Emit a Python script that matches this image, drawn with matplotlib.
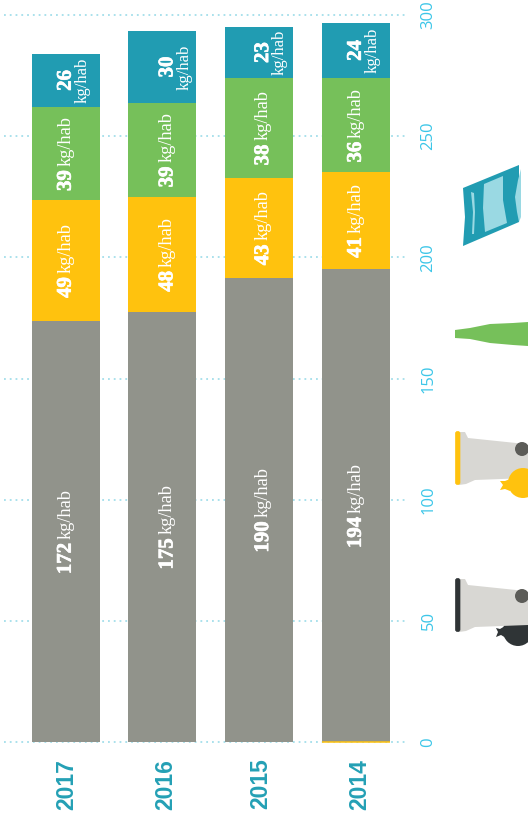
import matplotlib
matplotlib.use("Agg")
import matplotlib.pyplot as plt
import matplotlib.patheffects as pe
from matplotlib.patches import Polygon, Circle, FancyBboxPatch
from matplotlib.transforms import ScaledTranslation
import numpy as np

W, H = 528, 816

years = ["2017", "2016", "2015", "2014"]
# kg/hab printed on the chart
residual_lab = [172, 175, 190, 194]
packaging_lab = [49, 48, 43, 41]
glass_lab = [39, 39, 38, 36]
paper_lab = [26, 30, 23, 24]
# segment heights as they are drawn (the bars are not quite to scale with the labels)
residual = [173.7, 177.5, 191.5, 195.2]
packaging = [50.0, 47.5, 41.3, 40.0]
glass = [38.3, 38.7, 41.2, 38.8]
paper = [22.0, 29.7, 21.0, 22.7]
yticks = [0, 50, 100, 150, 200, 250, 300]

GREY = "#91938b"
YELLOW = "#ffc20e"
GREEN = "#76c05a"
TEAL = "#219cb2"
TICK = "#3cc6e8"
LIGHT = "#9ad9e3"
SERIF = "Liberation Serif"

fig = plt.figure(figsize=(W / 100, H / 100), dpi=100)
ax = fig.add_axes([4 / W, (H - 742) / H, 402 / W, 727 / H])

x = np.arange(len(years))
bar_w = 68 / 96.7
ax.bar(x, residual, bar_w, color=GREY, zorder=2)
ax.bar(x, packaging, bar_w, bottom=residual, color=YELLOW, zorder=2)
b2 = np.add(residual, packaging)
ax.bar(x, glass, bar_w, bottom=b2, color=GREEN, zorder=2)
b3 = b2 + np.array(glass)
ax.bar(x, paper, bar_w, bottom=b3, color=TEAL, zorder=2)
# thin yellow line under the last bar
ax.hlines(0, x[3] - bar_w / 2, x[3] + bar_w / 2, color=YELLOW, lw=1.1, zorder=3, clip_on=False)

ax.set_xlim(-61.7 / 96.7, 340.3 / 96.7)
ax.set_ylim(0, 300)
ax.set_yticks(yticks)
ax.set_xticks(x)
ax.set_xticklabels(years, rotation=90, fontsize=16.5, fontweight="bold",
                   family="Liberation Sans", color="#24a0b5")
ax.yaxis.tick_right()
ax.set_yticklabels(yticks, rotation=90, va="center", fontsize=12, family="Open Sans", color=TICK)
ax.tick_params(axis="y", length=0, pad=10.5)
ax.tick_params(axis="x", length=0, pad=12)
for s in ax.spines.values():
    s.set_visible(False)
ax.grid(axis="y", color="#a3deea", lw=1.3, linestyle=(0, (1, 2.2)), clip_on=False, zorder=1)
ax.set_axisbelow(True)

# year labels are not exactly centred under their bars
year_shift_px = [1, 3.5, 1.5, 3.5]
for lab, dx in zip(ax.get_xticklabels(), year_shift_px):
    lab.set_transform(lab.get_transform() + ScaledTranslation(dx / 100, 0, fig.dpi_scale_trans))

renderer = fig.canvas.get_renderer()
shift_px = [0, 5, 4, 0]
fat = [pe.withStroke(linewidth=0.5, foreground="white")]


def inline_label(i, mid, value):
    # bold number then the unit, reading upwards, centred on the segment
    cx = x[i] + shift_px[i] / 96.7
    num = ax.text(cx, mid, str(value), rotation=90, ha="center", va="bottom",
                  color="white", fontsize=15, fontweight="bold", family=SERIF,
                  zorder=4, path_effects=fat)
    unit = ax.text(cx, mid, "kg/hab", rotation=90, ha="center", va="bottom",
                   color="white", fontsize=13.2, family=SERIF, zorder=4)
    n_h = num.get_window_extent(renderer).height
    u_h = unit.get_window_extent(renderer).height
    per_px = 300 / 727
    gap = 4
    total = n_h + u_h + gap
    num.set_y(mid - total / 2 * per_px)
    unit.set_y(mid - total / 2 * per_px + (n_h + gap) * per_px)


for i in range(len(years)):
    inline_label(i, residual[i] / 2, residual_lab[i])
    inline_label(i, residual[i] + packaging[i] / 2, packaging_lab[i])
    inline_label(i, b2[i] + glass[i] / 2, glass_lab[i])
    # top segment is too short, so number and unit sit side by side
    mid = b3[i] + paper[i] / 2
    cx = x[i] + shift_px[i] / 96.7
    ax.text(cx, mid, str(paper_lab[i]), rotation=90, ha="center", va="center",
            color="white", fontsize=15, fontweight="bold", family=SERIF, zorder=4,
            path_effects=fat)
    ax.text(cx + 17 / 96.7, mid, "kg/hab", rotation=90, ha="center", va="center",
            color="white", fontsize=12, family=SERIF, zorder=4)

# pictograms on the right, in pixel coordinates
ic = fig.add_axes([0, 0, 1, 1])
ic.set_xlim(0, W)
ic.set_ylim(H, 0)
ic.axis("off")
ic.patch.set_alpha(0)

# bag
ic.add_patch(Polygon([(463, 188), (519, 165), (519, 222), (463, 246), (465, 217)],
                     color=TEAL, lw=0))
ic.add_patch(Polygon([(521, 169), (518, 180), (515, 197), (517, 212), (519, 222), (521, 217)],
                     color=LIGHT, lw=0))
ic.add_patch(Polygon([(484, 184), (503, 176), (503, 200), (507, 223), (485, 232), (483, 208)],
                     color=LIGHT, lw=0))
ic.add_patch(Polygon([(471, 192), (474, 193), (475, 212), (474, 234), (472, 234), (473, 212)],
                     color=LIGHT, lw=0))

# bottle
ic.add_patch(Polygon([(455, 330), (470, 328), (490, 324), (513, 323), (528, 322),
                      (528, 346), (513, 345), (490, 343), (470, 339), (455, 338)],
                     color=GREEN, lw=0))


def bin_icon(dy, colour, bag_on_top, bag_c, knot):
    bag = Circle(bag_c, 15, color=colour, lw=0, zorder=5 if bag_on_top else 3)
    ic.add_patch(bag)
    ic.add_patch(Polygon(knot, color=colour, lw=0, zorder=5 if bag_on_top else 3))
    ic.add_patch(Polygon([(459, 432 + dy), (465, 432 + dy), (468, 438 + dy), (516, 443 + dy),
                          (528, 445 + dy), (528, 478 + dy), (475, 480 + dy), (466, 484 + dy),
                          (459, 485 + dy)],
                         color="#d8d7d3", lw=0, zorder=4))
    ic.add_patch(FancyBboxPatch((455.5, 431.5 + dy), 4.5, 53, boxstyle="round,pad=0,rounding_size=2",
                                fc=colour, ec=colour, lw=0.5, zorder=6))
    ic.add_patch(Circle((522, 449 + dy), 7, color="#5c5c58", lw=0, zorder=6))


bin_icon(0, YELLOW, True, (523, 483),
         [(510, 479), (505, 481), (500, 481), (503, 485), (500, 490), (505, 489), (510, 491)])
bin_icon(147, "#2f3436", False, (518, 631),
         [(505, 626), (500, 629), (496, 628), (498, 632), (496, 637), (501, 635), (506, 638)])

fig.savefig("out.png", dpi=100)
